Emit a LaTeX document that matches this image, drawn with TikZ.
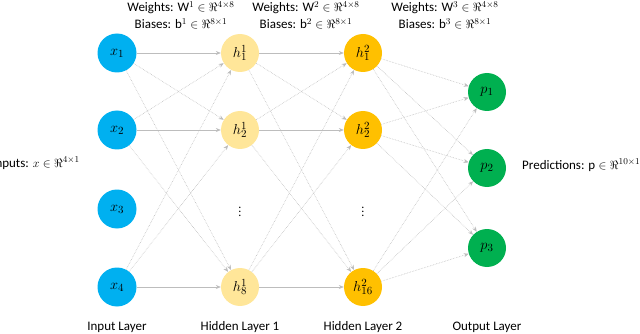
\documentclass[tikz,border=0pt]{standalone}
\usepackage{fontspec}
\setmainfont{Carlito}
\usetikzlibrary{arrows.meta}
\definecolor{inblue}{HTML}{00B0F0}
\definecolor{hidlight}{HTML}{FFE699}
\definecolor{hiddark}{HTML}{FFC000}
\definecolor{outgreen}{HTML}{00B050}
\definecolor{edgegray}{HTML}{BDBDBD}
\begin{document}
\begin{tikzpicture}[x=1pt, y=-1pt,
    neuron/.style={circle, minimum size=38pt, inner sep=0pt, font=\fontsize{15}{17}\selectfont},
    inneuron/.style={neuron, fill=inblue, minimum size=39pt},
    hidone/.style={neuron, fill=hidlight},
    hidtwo/.style={neuron, fill=hiddark},
    outneuron/.style={neuron, fill=outgreen},
    wlabel/.style={font=\fontsize{13}{15}\selectfont, align=center, inner sep=1pt},
    link/.style={draw=edgegray, line width=0.6pt, -{Stealth[length=5pt,width=4pt]}},
    weaklink/.style={link, densely dotted}
]
    % Page frame
    \useasboundingbox (0,0) rectangle (640,334);
    \clip (0,0) rectangle (640,334);

    % Input layer
    \foreach \i/\y in {1/53, 2/130, 3/209, 4/287}
        \node[inneuron] (x\i) at (117,\y) {$x_{\i}$};

    % Hidden layer 1
    \foreach \i/\y in {1/53, 2/130, 8/287}
        \node[hidone] (ha\i) at (240,\y) {$h^1_{\i}$};
    \node[font=\large] (dotsa) at (240,209) {$\vdots$};

    % Hidden layer 2
    \foreach \i/\y in {1/53, 2/130, 16/287}
        \node[hidtwo] (hb\i) at (363,\y) {$h^2_{\i}$};
    \node[font=\large] (dotsb) at (363,209) {$\vdots$};

    % Output layer
    \foreach \i/\y in {1/92, 2/168, 3/248}
        \node[outneuron] (p\i) at (487,\y) {$p_{\i}$};

    % Connections input -> hidden 1
    \foreach \s/\i in {x1/1, x2/2, x4/3}{
        \foreach \t/\j in {ha1/1, ha2/2, ha8/3}{
            \ifnum\i=\j
                \draw[link] (\s) -- (\t);
            \else
                \draw[weaklink] (\s) -- (\t);
            \fi
        }
    }

    % Connections hidden 1 -> hidden 2
    \foreach \s/\i in {ha1/1, ha2/2, ha8/3}{
        \foreach \t/\j in {hb1/1, hb2/2, hb16/3}{
            \ifnum\i=\j
                \draw[link] (\s) -- (\t);
            \else
                \draw[weaklink] (\s) -- (\t);
            \fi
        }
    }

    % Connections hidden 2 -> output
    \foreach \s in {hb1, hb2, hb16}
        \foreach \t in {p1, p2, p3}
            \draw[weaklink] (\s) -- (\t);

    % Weight and bias labels
    \node[wlabel] (wa) at (181,8) {Weights: $\mathrm{W}^1 \in \Re^{4\times 8}$};
    \node[wlabel] (ba) at (181,24) {Biases: $\mathrm{b}^1 \in \Re^{8\times 1}$};
    \node[wlabel] (wb) at (306,8) {Weights: $\mathrm{W}^2 \in \Re^{4\times 8}$};
    \node[wlabel] (bb) at (306,24) {Biases: $\mathrm{b}^2 \in \Re^{8\times 1}$};
    \node[wlabel] (wc) at (445,8) {Weights: $\mathrm{W}^3 \in \Re^{4\times 8}$};
    \node[wlabel] (bc) at (445,24) {Biases: $\mathrm{b}^3 \in \Re^{8\times 1}$};

    % Side labels
    \node[wlabel, anchor=east] (inlab) at (81,163) {Inputs: $x \in \Re^{4\times 1}$};
    \node[wlabel, anchor=west] (outlab) at (521,165) {Predictions: $\mathrm{p} \in \Re^{10\times 1}$};

    % Layer names
    \foreach \x/\name in {117/Input Layer, 240/Hidden Layer 1, 363/Hidden Layer 2, 487/Output Layer}
        \node[wlabel] (lay\x) at (\x,327) {\name};
\end{tikzpicture}
\end{document}
